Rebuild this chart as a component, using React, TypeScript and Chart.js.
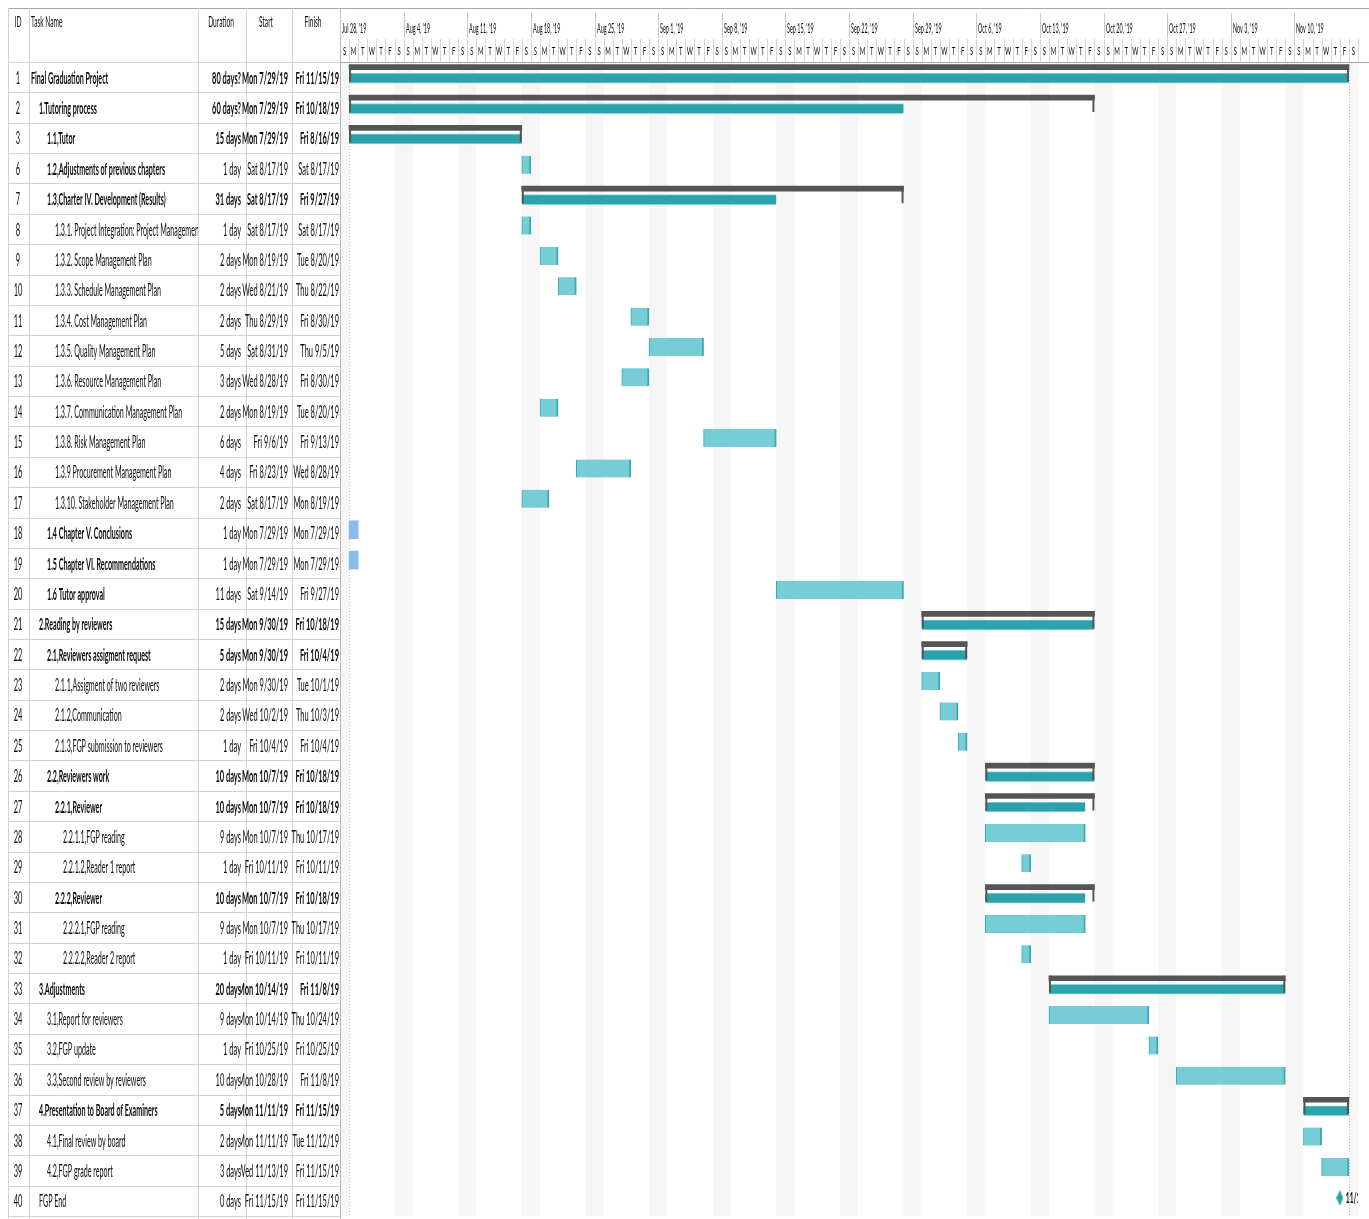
import { useEffect, useRef } from 'react';
import { Chart, registerables } from 'chart.js';

Chart.register(...registerables);

// ---------------- schedule data ----------------
const ROW_IDS = [1, 2, 3, 6, 7, 8, 9, 10, 11, 12, 13, 14, 15, 16, 17, 18, 19, 20, 21, 22, 23, 24, 25, 26, 27, 28, 29, 30, 31, 32, 33, 34, 35, 36, 37, 38, 39, 40];

const TASK_NAMES = [
  'Final Graduation Project',
  '1.Tutoring process',
  '1.1,Tutor',
  '1.2,Adjustments of previous chapters',
  '1.3,Charter IV. Development (Results)',
  '1.3.1. Project Integration: Project Management Plan',
  '1.3.2. Scope Management Plan',
  '1.3.3. Schedule Management Plan',
  '1.3.4. Cost Management Plan',
  '1.3.5. Quality Management Plan',
  '1.3.6. Resource Management Plan',
  '1.3.7. Communication Management Plan',
  '1.3.8. Risk Management Plan',
  '1.3.9 Procurement Management Plan',
  '1.3.10. Stakeholder Management Plan',
  '1.4 Chapter V. Conclusions',
  '1.5 Chapter VI. Recommendations',
  '1.6 Tutor approval',
  '2.Reading by reviewers',
  '2.1,Reviewers assigment request',
  '2.1.1,Assigment of two reviewers',
  '2.1.2,Communication',
  '2.1.3,FGP submission to reviewers',
  '2.2,Reviewers work',
  '2.2.1,Reviewer',
  '2.2.1.1,FGP reading',
  '2.2.1.2,Reader 1 report',
  '2.2.2,Reviewer',
  '2.2.2.1,FGP reading',
  '2.2.2.2,Reader 2 report',
  '3.Adjustments',
  '3.1,Report for reviewers',
  '3.2,FGP update',
  '3.3,Second review by reviewers',
  '4.Presentation to Board of Examiners',
  '4.1,Final review by board',
  '4.2,FGP grade report',
  'FGP End',
];

const OUTLINE_LEVELS = [0, 1, 2, 2, 2, 3, 3, 3, 3, 3, 3, 3, 3, 3, 3, 2, 2, 2, 1, 2, 3, 3, 3, 2, 3, 4, 4, 3, 4, 4, 1, 2, 2, 2, 1, 2, 2, 1];

const DURATIONS = ['80 days?', '60 days?', '15 days', '1 day', '31 days', '1 day', '2 days', '2 days', '2 days', '5 days', '3 days', '2 days', '6 days', '4 days', '2 days', '1 day', '1 day', '11 days', '15 days', '5 days', '2 days', '2 days', '1 day', '10 days', '10 days', '9 days', '1 day', '10 days', '9 days', '1 day', '20 days', '9 days', '1 day', '10 days', '5 days', '2 days', '3 days', '0 days'];

const START_DATES = ['2019-07-29', '2019-07-29', '2019-07-29', '2019-08-17', '2019-08-17', '2019-08-17', '2019-08-19', '2019-08-21', '2019-08-29', '2019-08-31', '2019-08-28', '2019-08-19', '2019-09-06', '2019-08-23', '2019-08-17', '2019-07-29', '2019-07-29', '2019-09-14', '2019-09-30', '2019-09-30', '2019-09-30', '2019-10-02', '2019-10-04', '2019-10-07', '2019-10-07', '2019-10-07', '2019-10-11', '2019-10-07', '2019-10-07', '2019-10-11', '2019-10-14', '2019-10-14', '2019-10-25', '2019-10-28', '2019-11-11', '2019-11-11', '2019-11-13', '2019-11-15'];

const FINISH_DATES = ['2019-11-15', '2019-10-18', '2019-08-16', '2019-08-17', '2019-09-27', '2019-08-17', '2019-08-20', '2019-08-22', '2019-08-30', '2019-09-05', '2019-08-30', '2019-08-20', '2019-09-13', '2019-08-28', '2019-08-19', '2019-07-29', '2019-07-29', '2019-09-27', '2019-10-18', '2019-10-04', '2019-10-01', '2019-10-03', '2019-10-04', '2019-10-18', '2019-10-18', '2019-10-17', '2019-10-11', '2019-10-18', '2019-10-17', '2019-10-11', '2019-11-08', '2019-10-24', '2019-10-25', '2019-11-08', '2019-11-15', '2019-11-12', '2019-11-15', '2019-11-15'];

// S = summary, T = task, M = manually scheduled task, D = milestone
const ROW_TYPES = ['S', 'S', 'S', 'T', 'S', 'T', 'T', 'T', 'T', 'T', 'T', 'T', 'T', 'T', 'T', 'M', 'M', 'T', 'S', 'S', 'T', 'T', 'T', 'S', 'S', 'T', 'T', 'S', 'T', 'T', 'S', 'T', 'T', 'T', 'S', 'T', 'T', 'D'];

// summary rows: work completed through this date
const PROGRESS_THROUGH: (string | null)[] = ['2019-11-15', '2019-09-27', '2019-08-16', null, '2019-09-13', null, null, null, null, null, null, null, null, null, null, null, null, null, '2019-10-18', '2019-10-04', null, null, null, '2019-10-18', '2019-10-17', null, null, '2019-10-17', null, null, '2019-11-08', null, null, null, '2019-11-15', null, null, null];

// tasks whose names are emphasised although they are not summaries
const EMPHASISED_IDS = [6, 18, 19, 20];

const TABLE_HEADERS = ['ID', 'Task Name', 'Duration', 'Start', 'Finish'];
const TIMELINE_START = '2019-07-28';
const TIMELINE_END = '2019-11-17';
const WEEK_LABELS = ["Jul 28, '19", "Aug 4, '19", "Aug 11, '19", "Aug 18, '19", "Aug 25, '19", "Sep 1, '19", "Sep 8, '19", "Sep 15, '19", "Sep 22, '19", "Sep 29, '19", "Oct 6, '19", "Oct 13, '19", "Oct 20, '19", "Oct 27, '19", "Nov 3, '19", "Nov 10, '19"];
const DAY_LETTERS = ['S', 'M', 'T', 'W', 'T', 'F', 'S'];
const WEEKDAY_NAMES = ['Sun', 'Mon', 'Tue', 'Wed', 'Thu', 'Fri', 'Sat'];

// ---------------- helpers ----------------
const parseISO = (s: string) => {
  const [y, m, d] = s.split('-').map(Number);
  return Date.UTC(y, m - 1, d);
};
const dayIndex = (s: string) => Math.round((parseISO(s) - parseISO(TIMELINE_START)) / 86400000);
const dateLabel = (s: string) => {
  const t = new Date(parseISO(s));
  return `${WEEKDAY_NAMES[t.getUTCDay()]} ${t.getUTCMonth() + 1}/${t.getUTCDate()}/${String(t.getUTCFullYear()).slice(2)}`;
};
const shortDateLabel = (s: string) => {
  const t = new Date(parseISO(s));
  return `${t.getUTCMonth() + 1}/${t.getUTCDate()}`;
};

const FONT = 'Lato, "Liberation Sans", sans-serif';
const SQUEEZE = 0.44;
const NAME_SQUEEZE = 0.42;

const COLORS = {
  summary: '#555555',
  progress: '#2AA3AD',
  progressEdge: '#8ED3D8',
  task: '#77CDD5',
  taskEdge: '#3AA9B2',
  manual: '#8ABCEB',
  milestone: '#2AA3AD',
  weekend: '#f6f6f6',
  grid: '#d2d2d2',
  text: '#0d0d0d',
};

// canvas geometry (table columns on the left, time line on the right)
const CANVAS_W = 1361;
const CANVAS_H = 1213;
const TABLE_W = 332;
const HEADER_H = 54;
const COLUMN_LINES = [21, 190, 238, 284];

function squeezedText(
  ctx: CanvasRenderingContext2D,
  text: string,
  x: number,
  y: number,
  align: CanvasTextAlign,
  font: string,
  squeeze = SQUEEZE,
  color = COLORS.text,
) {
  ctx.save();
  ctx.font = font;
  ctx.fillStyle = color;
  ctx.textAlign = align;
  ctx.textBaseline = 'middle';
  ctx.translate(x, y);
  ctx.scale(squeeze, 1);
  ctx.fillText(text, 0, 0);
  ctx.restore();
}

function diamondImage(w: number, h: number, color: string) {
  const c = document.createElement('canvas');
  c.width = w;
  c.height = h;
  const g = c.getContext('2d')!;
  g.fillStyle = color;
  g.beginPath();
  g.moveTo(w / 2, 0);
  g.lineTo(w, h / 2);
  g.lineTo(w / 2, h);
  g.lineTo(0, h / 2);
  g.closePath();
  g.fill();
  return c;
}

// table, time-scale header and weekend shading
const backdropPlugin = {
  id: 'ganttBackdrop',
  beforeDatasetsDraw(chart: any) {
    const { ctx, chartArea, scales } = chart;
    const xs = scales.x;
    const ys = scales.y;
    const rowH = (chartArea.bottom - chartArea.top) / ROW_IDS.length;
    const totalDays = dayIndex(TIMELINE_END);

    ctx.save();
    // weekend columns
    ctx.fillStyle = COLORS.weekend;
    for (let d = 0; d < totalDays; d++) {
      const wd = d % 7;
      if (wd === 0 || wd === 6) {
        const x0 = xs.getPixelForValue(d);
        const x1 = xs.getPixelForValue(d + 1);
        ctx.fillRect(x0, chartArea.top, x1 - x0, chartArea.bottom - chartArea.top);
      }
    }

    // project start / finish markers
    ctx.strokeStyle = '#bdbdbd';
    ctx.lineWidth = 1;
    ctx.setLineDash([1, 2]);
    [dayIndex(START_DATES[0]), dayIndex(FINISH_DATES[0]) + 1].forEach((d) => {
      const x = Math.round(xs.getPixelForValue(d)) + 0.5;
      ctx.beginPath();
      ctx.moveTo(x, chartArea.top);
      ctx.lineTo(x, chartArea.bottom);
      ctx.stroke();
    });
    ctx.setLineDash([]);

    // outer header lines
    ctx.strokeStyle = '#a8a8a8';
    ctx.beginPath();
    ctx.moveTo(0, 0.5);
    ctx.lineTo(CANVAS_W, 0.5);
    ctx.moveTo(0, HEADER_H + 0.5);
    ctx.lineTo(CANVAS_W, HEADER_H + 0.5);
    ctx.stroke();

    // table grid
    ctx.strokeStyle = COLORS.grid;
    for (let i = 0; i <= ROW_IDS.length; i++) {
      const y = Math.round(chartArea.top + i * rowH) + 0.5;
      ctx.beginPath();
      ctx.moveTo(0, y);
      ctx.lineTo(TABLE_W, y);
      ctx.stroke();
    }
    ctx.beginPath();
    ctx.moveTo(0.5, 0);
    ctx.lineTo(0.5, CANVAS_H);
    COLUMN_LINES.forEach((x) => {
      ctx.moveTo(x + 0.5, 0);
      ctx.lineTo(x + 0.5, CANVAS_H);
    });
    ctx.stroke();
    ctx.strokeStyle = '#b8b8b8';
    ctx.beginPath();
    ctx.moveTo(TABLE_W + 0.5, 0);
    ctx.lineTo(TABLE_W + 0.5, CANVAS_H);
    ctx.stroke();

    // table header
    const hf = `15px ${FONT}`;
    const hy = 14;
    squeezedText(ctx, TABLE_HEADERS[0], 10, hy, 'center', hf);
    squeezedText(ctx, TABLE_HEADERS[1], 23, hy, 'left', hf);
    squeezedText(ctx, TABLE_HEADERS[2], 213, hy, 'center', hf);
    squeezedText(ctx, TABLE_HEADERS[3], 258, hy, 'center', hf);
    squeezedText(ctx, TABLE_HEADERS[4], 305, hy, 'center', hf);

    // time-scale header: weeks
    ctx.strokeStyle = '#c8c8c8';
    WEEK_LABELS.forEach((lbl, w) => {
      const x = Math.round(xs.getPixelForValue(w * 7)) + 0.5;
      ctx.beginPath();
      ctx.moveTo(x, 5);
      ctx.lineTo(x, 30);
      ctx.stroke();
      squeezedText(ctx, lbl, x + 1.5, 21, 'left', `13px ${FONT}`, 0.42);
    });
    // time-scale header: days
    ctx.strokeStyle = '#d6d6d6';
    for (let d = 0; d < totalDays; d++) {
      const x0 = xs.getPixelForValue(d);
      const x1 = xs.getPixelForValue(d + 1);
      ctx.beginPath();
      ctx.moveTo(Math.round(x1) + 0.5, 31);
      ctx.lineTo(Math.round(x1) + 0.5, HEADER_H);
      ctx.stroke();
      squeezedText(ctx, DAY_LETTERS[d % 7], (x0 + x1) / 2, 43, 'center', `12px ${FONT}`, 0.5);
    }

    // table rows
    ROW_IDS.forEach((id, i) => {
      const y = ys.getPixelForValue(i) + 1;
      const summary = ROW_TYPES[i] === 'S';
      const boldName = summary || EMPHASISED_IDS.includes(id);
      const nameFont = `${boldName ? 'bold ' : ''}17px ${FONT}`;
      const valFont = `${summary ? 'bold ' : ''}17px ${FONT}`;

      squeezedText(ctx, String(id), 10, y, 'center', `17px ${FONT}`);

      ctx.save();
      ctx.beginPath();
      ctx.rect(COLUMN_LINES[0] + 1, y - rowH / 2, COLUMN_LINES[1] - COLUMN_LINES[0] - 1, rowH);
      ctx.clip();
      squeezedText(ctx, TASK_NAMES[i], 23 + OUTLINE_LEVELS[i] * 8, y, 'left', nameFont, NAME_SQUEEZE);
      ctx.restore();

      squeezedText(ctx, DURATIONS[i], 233, y, 'right', valFont);

      ctx.save();
      ctx.beginPath();
      ctx.rect(232.5, y - rowH / 2, 52, rowH);
      ctx.clip();
      squeezedText(ctx, dateLabel(START_DATES[i]), 280, y, 'right', valFont);
      ctx.restore();

      ctx.save();
      ctx.beginPath();
      ctx.rect(COLUMN_LINES[3] - 1, y - rowH / 2, TABLE_W - COLUMN_LINES[3] + 1, rowH);
      ctx.clip();
      squeezedText(ctx, dateLabel(FINISH_DATES[i]), 331, y, 'right', valFont);
      ctx.restore();
    });
    ctx.restore();
  },
};

// vertical offset of each bar layer inside its row, plus summary bracket ends
const layerPlugin = {
  id: 'ganttLayers',
  beforeDatasetDraw(chart: any, args: any) {
    const ds = chart.data.datasets[args.index];
    chart.ctx.save();
    chart.ctx.translate(0, ds.rowShift || 0);
  },
  afterDatasetDraw(chart: any, args: any) {
    const ds = chart.data.datasets[args.index];
    const ctx = chart.ctx;
    if (ds.bracketEnds) {
      ctx.fillStyle = ds.backgroundColor;
      args.meta.data.forEach((el: any, j: number) => {
        if (!el || ds.data[j] == null) return;
        const top = el.y - el.height / 2;
        const left = Math.min(el.base, el.x);
        const right = Math.max(el.base, el.x);
        ctx.fillRect(left, top, 2, ds.bracketEnds);
        ctx.fillRect(right - 2, top, 2, ds.bracketEnds);
      });
    }
    if (ds.milestoneLabels) {
      ctx.save();
      const { chartArea } = chart;
      ctx.beginPath();
      ctx.rect(chartArea.left, chartArea.top - 40, chartArea.right - chartArea.left, chartArea.bottom - chartArea.top + 40);
      ctx.clip();
      args.meta.data.forEach((el: any, j: number) => {
        squeezedText(ctx, ds.milestoneLabels[j], el.x + 6, el.y, 'left', `bold 15px ${FONT}`);
      });
      ctx.restore();
    }
    ctx.restore();
  },
};

const rowSpan = (i: number) => [dayIndex(START_DATES[i]), dayIndex(FINISH_DATES[i]) + 1];

export default function App() {
  const canvasRef = useRef<HTMLCanvasElement | null>(null);

  useEffect(() => {
    const canvas = canvasRef.current;
    if (!canvas) return;

    const labels = ROW_IDS.map(String);
    const bracketData = ROW_TYPES.map((t, i) => (t === 'S' ? rowSpan(i) : null));
    const progressData = ROW_TYPES.map((t, i) =>
      t === 'S' && PROGRESS_THROUGH[i] ? [dayIndex(START_DATES[i]), dayIndex(PROGRESS_THROUGH[i] as string) + 1] : null,
    );
    const taskData = ROW_TYPES.map((t, i) => (t === 'T' ? rowSpan(i) : null));
    const manualData = ROW_TYPES.map((t, i) => (t === 'M' ? rowSpan(i) : null));
    const milestoneRows = ROW_TYPES.map((t, i) => (t === 'D' ? i : -1)).filter((i) => i >= 0);
    const milestoneData = milestoneRows.map((i) => ({ x: dayIndex(FINISH_DATES[i]), y: String(ROW_IDS[i]) }));

    const chart = new Chart(canvas, {
      type: 'bar',
      data: {
        labels,
        datasets: [
          {
            label: 'Summary',
            data: bracketData as any,
            backgroundColor: COLORS.summary,
            barThickness: 5,
            grouped: false,
            rowShift: -10,
            bracketEnds: 17,
          } as any,
          {
            label: 'Summary progress',
            data: progressData as any,
            backgroundColor: COLORS.progress,
            borderColor: COLORS.progressEdge,
            borderWidth: { top: 1, bottom: 1, left: 0, right: 0 },
            borderSkipped: false,
            barThickness: 10,
            grouped: false,
            rowShift: 1,
          } as any,
          {
            label: 'Task',
            data: taskData as any,
            backgroundColor: COLORS.task,
            borderColor: COLORS.taskEdge,
            borderWidth: { top: 0, bottom: 0, left: 1, right: 2 },
            borderSkipped: false,
            barThickness: 18,
            grouped: false,
            rowShift: -3.5,
          } as any,
          {
            label: 'Manual task',
            data: manualData as any,
            backgroundColor: COLORS.manual,
            barThickness: 18,
            grouped: false,
            rowShift: -3,
          } as any,
          {
            type: 'scatter',
            label: 'Milestone',
            data: milestoneData as any,
            pointStyle: diamondImage(7, 16, COLORS.milestone),
            rowShift: -3,
            milestoneLabels: milestoneRows.map((i) => shortDateLabel(FINISH_DATES[i])),
          } as any,
        ],
      },
      options: {
        indexAxis: 'y',
        animation: false,
        responsive: false,
        events: [],
        layout: { padding: { left: TABLE_W, top: HEADER_H, right: CANVAS_W - 1350, bottom: 0 } },
        plugins: { legend: { display: false }, tooltip: { enabled: false } },
        scales: {
          x: { type: 'linear', min: 0, max: dayIndex(TIMELINE_END), display: false },
          y: { type: 'category', offset: true, display: false, grid: { display: false } },
        },
      },
      plugins: [backdropPlugin, layerPlugin],
    });

    return () => chart.destroy();
  }, []);

  return (
    <div style={{ position: 'fixed', left: 8, top: 8, width: CANVAS_W, height: CANVAS_H, background: '#ffffff' }}>
      <canvas ref={canvasRef} width={CANVAS_W} height={CANVAS_H} style={{ width: CANVAS_W, height: CANVAS_H, display: 'block' }} />
    </div>
  );
}
